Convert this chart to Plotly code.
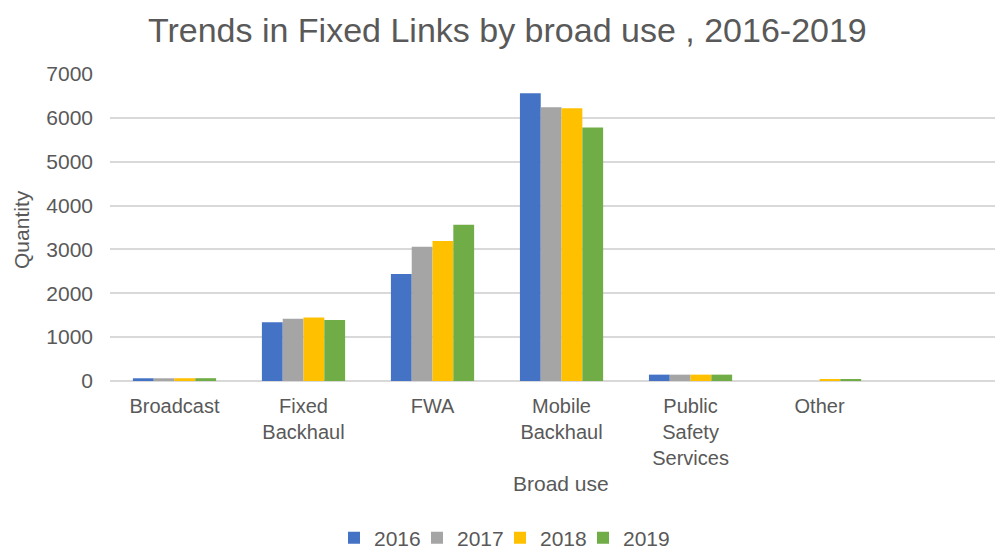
import plotly.graph_objects as go

# Fixed link counts by broad use category, one series per year
categories = ["Broadcast", "Fixed<br>Backhaul", "FWA", "Mobile<br>Backhaul",
              "Public<br>Safety<br>Services", "Other"]
years = ["2016", "2017", "2018", "2019"]
values_2016 = [62, 1340, 2440, 6560, 145, 0]
values_2017 = [62, 1420, 3060, 6240, 145, 0]
values_2018 = [63, 1450, 3190, 6220, 145, 35]
values_2019 = [64, 1390, 3560, 5780, 145, 40]
series_values = [values_2016, values_2017, values_2018, values_2019]
colors = ["#4472C4", "#A5A5A5", "#FFC000", "#70AD47"]
y_ticks = [0, 1000, 2000, 3000, 4000, 5000, 6000, 7000]

FONT = "Liberation Sans, Arial, sans-serif"
TEXT = "#595959"
FS = 21

# one small legend per year so each key can sit at its own spot
legend_names = ["legend", "legend2", "legend3", "legend4"]
legend_px = [334, 417, 500, 583]
PLOT_L, PLOT_W = 110, 885

fig = go.Figure()
for year, vals, col, lg in zip(years, series_values, colors, legend_names):
    fig.add_trace(go.Bar(
        name=year, x=categories, y=vals, legend=lg, showlegend=True,
        marker=dict(color=col, line=dict(width=0)),
    ))

legend_layout = {}
for lg, px in zip(legend_names, legend_px):
    legend_layout[lg] = dict(
        orientation="h", x=(px - PLOT_L) / PLOT_W, xanchor="left",
        y=-0.512, yanchor="middle", itemwidth=30,
        font=dict(size=FS, color=TEXT), bgcolor="rgba(0,0,0,0)",
    )

fig.update_layout(
    width=995, height=548,
    showlegend=True,
    margin=dict(l=110, r=0, t=74, b=167, autoexpand=False),
    paper_bgcolor="white", plot_bgcolor="white",
    barmode="group", bargap=0.355, bargroupgap=0,
    font=dict(family=FONT, color=TEXT, size=FS),
    title=dict(text="Trends in Fixed Links by broad use , 2016-2019",
               x=0.449, xref="paper", xanchor="center",
               y=0.945, yref="container", yanchor="middle",
               font=dict(size=34, color=TEXT, family=FONT)),
    xaxis=dict(range=[-0.5, 6.36], showgrid=False, zeroline=False,
               showline=False, ticks="", automargin=False,
               ticklabelstandoff=11,
               tickfont=dict(size=20, color=TEXT)),
    yaxis=dict(range=[0, 7000], tickvals=y_ticks, showgrid=True,
               gridcolor="#D9D9D9", gridwidth=1.5, zeroline=True,
               zerolinecolor="#D9D9D9", zerolinewidth=1.5,
               showline=False, ticks="", ticklabelstandoff=16,
               automargin=False,
               tickfont=dict(size=FS, color=TEXT)),
    annotations=[
        dict(text="Broad use", xref="paper", yref="paper",
             x=0.5096, y=-0.335, xanchor="center", yanchor="middle",
             showarrow=False, font=dict(size=FS, color=TEXT)),
        dict(text="Quantity", xref="paper", yref="paper", textangle=-90,
             x=-0.0994, y=0.492, xanchor="center", yanchor="middle",
             showarrow=False, font=dict(size=FS, color=TEXT)),
    ],
    **legend_layout,
)

fig.write_html("out.html")
